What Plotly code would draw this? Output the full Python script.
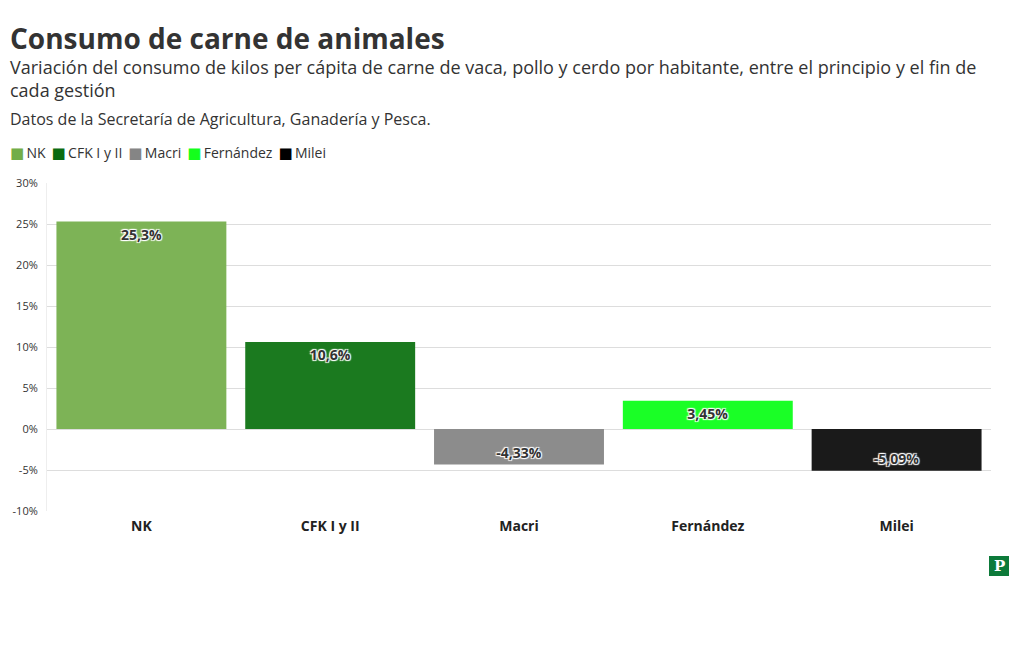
import plotly.graph_objects as go

categories = ["NK", "CFK I y II", "Macri", "Fernández", "Milei"]
values = [25.3, 10.6, -4.33, 3.45, -5.09]
colors = ["#7db356", "#1b7a1f", "#8c8c8c", "#1aff26", "#1a1a1a"]
legend_colors = ["#72ad48", "#0b6b10", "#858585", "#14ff1c", "#000000"]
y_ticks = [-10, -5, 0, 5, 10, 15, 20, 25, 30]
y_tick_labels = ["-10%", "-5%", "0%", "5%", "10%", "15%", "20%", "25%", "30%"]

FONT = "Open Sans, Noto Sans, sans-serif"
OFF = 8  # default page body margin
W, H = 1020 - OFF, 650 - OFF
L, R, T, B = 47 - OFF, 991 - OFF, 183 - OFF, 511 - OFF
PW, PH = R - L, B - T

def px(xp):
    return (xp - OFF - L) / PW

def py(yp):
    return (B - (yp - OFF)) / PH

fig = go.Figure()
for cat, val, col in zip(categories, values, colors):
    fig.add_trace(go.Bar(
        x=[cat], y=[val], name=cat,
        marker=dict(color=col, line=dict(width=0)),
        texttemplate="%{y:.3r}%",
        textposition="inside",
        insidetextanchor="end",
        textangle=0,
        textfont=dict(family=FONT, size=14, color="#333333", weight="bold",
                      shadow="1px 1px 1px #ffffff, -1px -1px 1px #ffffff, 1px -1px 1px #ffffff, -1px 1px 1px #ffffff"),
        hoverinfo="x+y",
        showlegend=False,
    ))

fig.update_layout(
    width=W, height=H,
    paper_bgcolor="white", plot_bgcolor="white",
    separators=",.",
    font=dict(family=FONT, color="#333333"),
    margin=dict(l=L, r=W - R, t=T, b=H - B, autoexpand=False),
    bargap=0.1,
    barmode="group",
    showlegend=False,
    xaxis=dict(
        tickfont=dict(size=14, color="#222222", family=FONT, weight="bold"),
        showgrid=False, showline=False, ticks="", automargin=False,
        ticklabelstandoff=5,
    ),
    yaxis=dict(
        range=[-10, 30], tickmode="array", tickvals=y_ticks, ticktext=y_tick_labels,
        tickfont=dict(size=11, color="#333333", family=FONT),
        showgrid=True, gridcolor="#dddddd", gridwidth=1,
        zeroline=True, zerolinecolor="#dddddd", zerolinewidth=1,
        showline=True, linecolor="#eeeeee", linewidth=1, automargin=False,
        ticklabelstandoff=6,
    ),
)

def ann(text, x, y, size, color="#333333"):
    fig.add_annotation(text=text, xref="paper", yref="paper", x=px(x), y=py(y),
                       xanchor="left", yanchor="middle", showarrow=False, align="left",
                       font=dict(size=size, color=color, family=FONT))

ann("<b>Consumo de carne de animales</b>", 8, 38, 28)
ann("Variación del consumo de kilos per cápita de carne de vaca, pollo y cerdo por habitante, entre el principio y el fin de<br>cada gestión", 8, 79, 18)
ann("Datos de la Secretaría de Agricultura, Ganadería y Pesca.", 8, 119, 16)

# legend built from the category and colour lists
legend_parts = [
    f"<span style='color:{c};font-size:15px;font-family:DejaVu Sans'>■</span>&#8201;{cat}"
    for cat, c in zip(categories, legend_colors)
]
ann("&nbsp;&#8201;".join(legend_parts), 8, 153, 14)

fig.add_shape(type="rect", xref="paper", yref="paper",
              x0=px(989), x1=px(1009), y0=py(576), y1=py(556),
              fillcolor="#0d7a3a", line=dict(width=0))
fig.add_annotation(text="<b>P</b>", xref="paper", yref="paper",
                   x=px(999), y=py(566), showarrow=False, xanchor="center", yanchor="middle",
                   font=dict(size=15, color="white", family="DejaVu Serif, serif"))

fig.write_html("out.html")
